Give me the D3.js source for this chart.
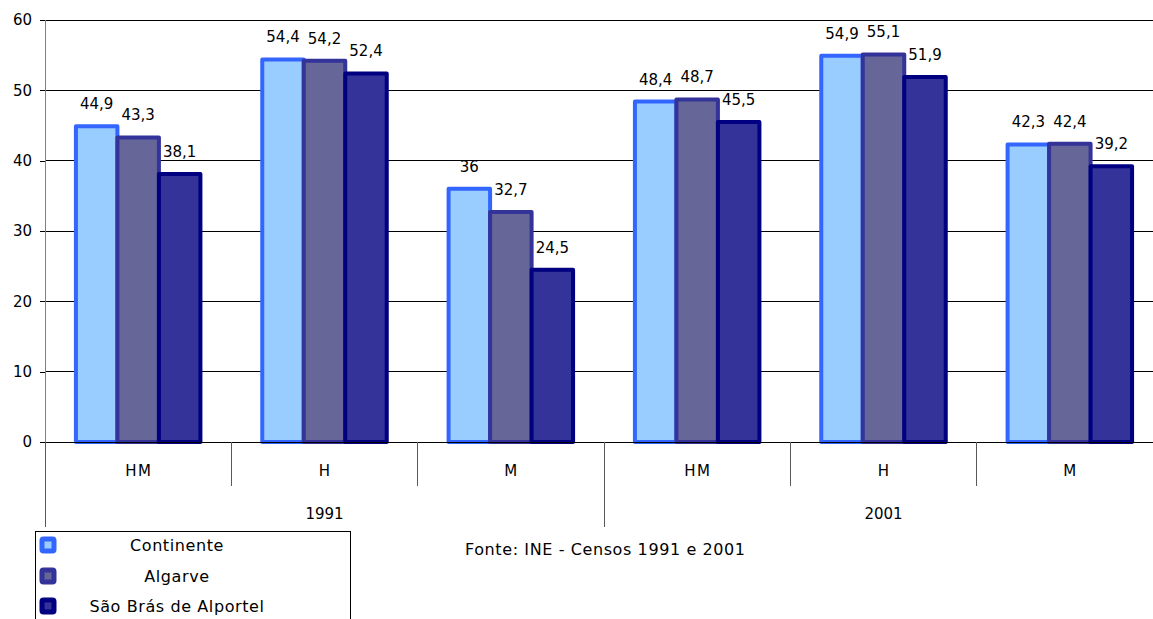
<!DOCTYPE html>
<html>
<head>
<meta charset="utf-8">
<script src="https://cdn.jsdelivr.net/npm/d3@7"></script>
<style>
  html, body { margin: 0; padding: 0; background: #fff; }
  svg { display: block; }
  text { font-family: "DejaVu Sans", sans-serif; font-size: 15px; fill: #000; }
  .wide { font-size: 16px; letter-spacing: 0.6px; }
  .cat { letter-spacing: 1.5px; }
</style>
</head>
<body>
<svg id="chart" width="1153" height="619"></svg>
<script>
// Categories: sex breakdown within each census year
const categories = ["HM", "H", "M", "HM", "H", "M"];
const years = ["1991", "2001"];
const series = ["Continente", "Algarve", "São Brás de Alportel"];

// Values per series, one per category
const continente = [44.9, 54.4, 36, 48.4, 54.9, 42.3];
const algarve = [43.3, 54.2, 32.7, 48.7, 55.1, 42.4];
const saoBras = [38.1, 52.4, 24.5, 45.5, 51.9, 39.2];

const yTicks = [0, 10, 20, 30, 40, 50, 60];
const source = "Fonte: INE - Censos 1991 e 2001";

const fills = ["#99CCFF", "#666699", "#333399"];
const strokes = ["#3366FF", "#333399", "#000080"];

const values = [continente, algarve, saoBras];

const svg = d3.select("#chart");

const plotLeft = 45, plotRight = 1163, plotTop = 20, plotBottom = 442;

const x = d3.scaleBand().domain(d3.range(categories.length)).range([plotLeft, plotRight]).padding(0);
const xs = d3.scaleBand().domain(d3.range(series.length)).range([-62.25, 62.25]).padding(0);
const y = d3.scaleLinear().domain([0, 60]).range([plotBottom, plotTop]);

// horizontal gridlines
svg.append("g")
  .selectAll("line")
  .data(yTicks.filter(d => d > 0))
  .join("line")
  .attr("x1", plotLeft).attr("x2", 1153)
  .attr("y1", d => y(d)).attr("y2", d => y(d))
  .attr("stroke", "#000").attr("stroke-width", 1)
  .attr("shape-rendering", "crispEdges");

// y axis
const yAxis = d3.axisLeft(y).tickValues(yTicks).tickSize(5).tickPadding(8).tickFormat(d3.format("d"));
const gy = svg.append("g").attr("transform", `translate(${plotLeft},0)`).call(yAxis);
gy.select(".domain").attr("stroke", "#808080").attr("shape-rendering", "crispEdges");
gy.selectAll(".tick line").attr("stroke", "#000").attr("shape-rendering", "crispEdges");
gy.selectAll(".tick text")
  .style("font-family", "'DejaVu Sans', sans-serif").style("font-size", "15px").attr("fill", "#000");

// bars
const fmt = v => String(v).replace(".", ",");
series.forEach((s, si) => {
  const g = svg.append("g");
  g.selectAll("rect")
    .data(values[si])
    .join("rect")
    .attr("x", (d, i) => x(i) + x.bandwidth() / 2 + xs(si))
    .attr("width", xs.bandwidth())
    .attr("y", d => y(d))
    .attr("height", d => y(0) - y(d))
    .attr("fill", fills[si])
    .attr("stroke", strokes[si])
    .attr("stroke-width", 4)
    .attr("stroke-linejoin", "round");
});

// value labels
series.forEach((s, si) => {
  svg.append("g")
    .selectAll("text")
    .data(values[si])
    .join("text")
    .attr("x", (d, i) => x(i) + x.bandwidth() / 2 + xs(si) + xs.bandwidth() / 2)
    .attr("y", d => y(d) - 17)
    .attr("text-anchor", "middle")
    .text(d => fmt(d));
});

// x axis baseline
svg.append("line")
  .attr("x1", plotLeft - 5).attr("x2", 1153)
  .attr("y1", y(0)).attr("y2", y(0))
  .attr("stroke", "#000").attr("shape-rendering", "crispEdges");

// category separators: short inside a year, long between years
const bounds = d3.range(categories.length + 1);
svg.append("g")
  .selectAll("line")
  .data(bounds)
  .join("line")
  .attr("x1", i => i < categories.length ? x(i) : plotRight)
  .attr("x2", i => i < categories.length ? x(i) : plotRight)
  .attr("y1", y(0))
  .attr("y2", i => i % 3 === 0 ? 527 : 486)
  .attr("stroke", "#595959").attr("stroke-width", 1)
  .attr("shape-rendering", "crispEdges");

// category labels
svg.append("g")
  .selectAll("text")
  .data(categories)
  .join("text")
  .attr("class", "cat")
  .attr("x", (d, i) => x(i) + x.bandwidth() / 2 + 0.75)
  .attr("y", 476)
  .attr("text-anchor", "middle")
  .text(d => d);

// year labels
svg.append("g")
  .selectAll("text")
  .data(years)
  .join("text")
  .attr("x", (d, i) => (x(i * 3) + (i * 3 + 3 < categories.length ? x(i * 3 + 3) : plotRight)) / 2)
  .attr("y", 519)
  .attr("text-anchor", "middle")
  .text(d => d);

// source note
svg.append("text")
  .attr("class", "wide")
  .attr("x", 465).attr("y", 555)
  .text(source);

// legend
const legend = svg.append("g");
legend.append("rect")
  .attr("x", 35.5).attr("y", 531.5)
  .attr("width", 315).attr("height", 100)
  .attr("fill", "#fff").attr("stroke", "#000").attr("stroke-width", 1);
const rowY = [545, 576, 606];
series.forEach((s, si) => {
  legend.append("rect")
    .attr("x", 48 - 6).attr("y", rowY[si] - 6)
    .attr("width", 12).attr("height", 12)
    .attr("rx", 1.5)
    .attr("fill", fills[si]).attr("stroke", strokes[si]).attr("stroke-width", 5)
    .attr("stroke-linejoin", "round");
  legend.append("text")
    .attr("class", "wide")
    .attr("x", 177).attr("y", rowY[si] + 6)
    .attr("text-anchor", "middle")
    .text(s);
});
</script>
</body>
</html>
